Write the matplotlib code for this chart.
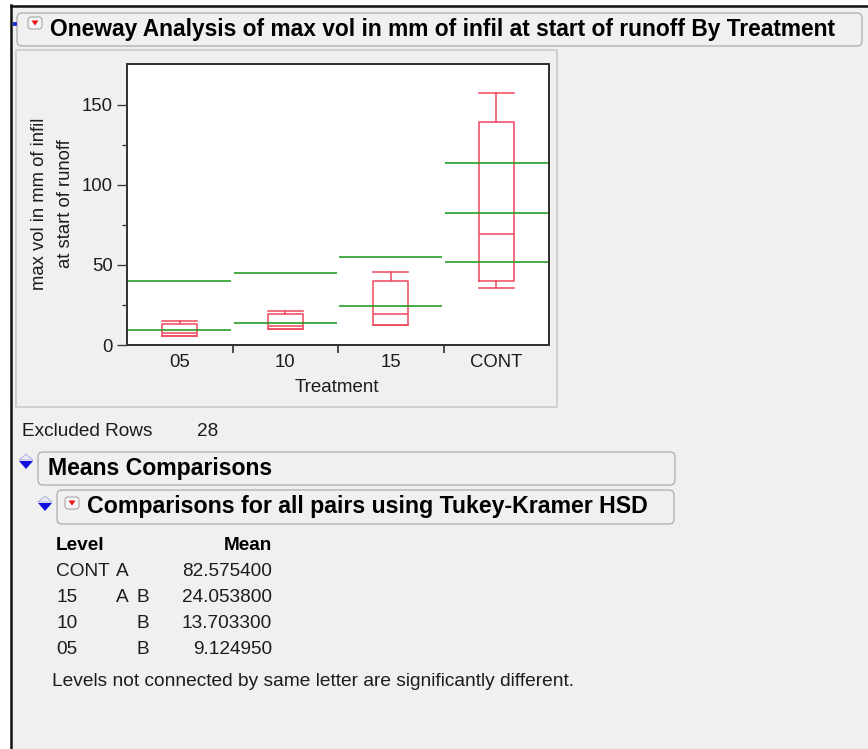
import matplotlib
matplotlib.use("Agg")
import matplotlib.pyplot as plt
from matplotlib.patches import FancyBboxPatch, Rectangle, Polygon

plt.rcParams["font.family"] = ["Liberation Sans", "DejaVu Sans"]

# --- data ---
treatments = ["05", "10", "15", "CONT"]
box_min = [5.9, 9.8, 12.3, 35.9]
box_q1 = [5.9, 9.8, 12.3, 39.8]
box_med = [7.5, 12.0, 19.4, 69.2]
box_q3 = [13.4, 19.1, 39.8, 139.4]
box_max = [15.3, 21.0, 45.9, 157.1]
means = [9.124950, 13.703300, 24.053800, 82.575400]
sd_upper = [40.0, 44.7, 54.8, 113.8]
sd_lower = [None, None, None, 51.6]

table_levels = ["CONT", "15", "10", "05"]
table_letters = [["A", ""], ["A", "B"], ["", "B"], ["", "B"]]
table_means = ["82.575400", "24.053800", "13.703300", "9.124950"]

RED = "#ef4d64"
GREEN = "#1f9a1f"
BG = "#f0f0f0"
TXT = "#1c1c1c"
W, H = 868, 749

fig = plt.figure(figsize=(W / 72, H / 72), dpi=72, facecolor=BG)

# overlay in pixel coordinates for the report furniture
ov = fig.add_axes([0, 0, 1, 1], zorder=0)
ov.set_xlim(0, W); ov.set_ylim(H, 0); ov.axis("off")
ov.add_patch(Rectangle((0, 0), W, 5, color="white", lw=0))
ov.add_patch(Rectangle((0, 0), 11, H, color="white", lw=0))
ov.plot([11, W], [6, 6], color="#111111", lw=2.5)
ov.plot([11, 11], [5, H], color="#111111", lw=2.5)
ov.plot([14], [23], marker="s", ms=3, color="#2233dd")


def outline_box(x0, y0, x1, y1):
    ov.add_patch(FancyBboxPatch((x0, y0), x1 - x0, y1 - y0,
                                boxstyle="round,pad=0,rounding_size=5",
                                fc=BG, ec="#a8a8a8", lw=1.2))


def red_icon(x, y):
    ov.add_patch(FancyBboxPatch((x, y), 14, 12, boxstyle="round,pad=0,rounding_size=3",
                                fc="#f4f4f4", ec="#a0a0a0", lw=1))
    ov.add_patch(Polygon([[x + 3.5, y + 3.5], [x + 10.5, y + 3.5], [x + 7, y + 8.5]],
                         closed=True, color="#ee1111", lw=0))


def blue_icon(x, y):
    ov.add_patch(Polygon([[x, y + 7], [x + 14, y + 7], [x + 7, y + 15]],
                         closed=True, color="#1010dd", lw=0))
    ov.add_patch(Polygon([[x, y + 6], [x + 7, y], [x + 14, y + 6]],
                         closed=True, fc="#e8e8ff", ec="#9090c0", lw=0.6))


# title bar
outline_box(17, 13, 862, 46)
red_icon(28, 17)
ov.text(50, 29.5, "Oneway Analysis of max vol in mm of infil at start of runoff By Treatment",
        fontsize=22.8, fontweight="bold", va="center", ha="left")

# plot frame
ov.add_patch(Rectangle((15.5, 49.5), 541, 357, fc=BG, ec="#c8c8c8", lw=1.5))

# y label (two lines) and x label
ov.text(40, 204, "max vol in mm of infil", rotation=90, fontsize=18.5,
        ha="center", va="center", color=TXT)
ov.text(65, 204, "at start of runoff", rotation=90, fontsize=18.5,
        ha="center", va="center", color=TXT)
ov.text(337, 388, "Treatment", fontsize=18.8, ha="center", va="center", color=TXT)

# excluded rows
ov.text(22, 432, "Excluded Rows", fontsize=19, ha="left", va="center", color=TXT)
ov.text(197, 432, "28", fontsize=19, ha="left", va="center", color=TXT)

# means comparisons headers
blue_icon(19, 454)
outline_box(38, 452, 675, 485)
ov.text(48, 469, "Means Comparisons", fontsize=23, fontweight="bold", va="center")
blue_icon(38, 496)
outline_box(57, 490, 674, 524)
red_icon(65, 497)
ov.text(87, 507, "Comparisons for all pairs using Tukey-Kramer HSD",
        fontsize=23.1, fontweight="bold", va="center")

# connecting letters table
ov.text(56, 545, "Level", fontsize=19, fontweight="bold", va="center")
ov.text(272, 545, "Mean", fontsize=19, fontweight="bold", va="center", ha="right")
for i, (lev, lets, mv) in enumerate(zip(table_levels, table_letters, table_means)):
    yy = 571 + 26 * i
    ov.text(56, yy, lev, fontsize=19, va="center", color=TXT)
    ov.text(116, yy, lets[0], fontsize=19, va="center", color=TXT)
    ov.text(136.5, yy, lets[1], fontsize=19, va="center", color=TXT)
    ov.text(272, yy, mv, fontsize=19, va="center", ha="right", color=TXT)
ov.text(52, 681, "Levels not connected by same letter are significantly different.",
        fontsize=19.1, va="center", color=TXT)

# --- the oneway plot ---
ax = fig.add_axes([127 / W, 1 - 345 / H, 422 / W, 281 / H], zorder=1)
ax.set_facecolor("white")
pos = list(range(len(treatments)))
stats = [dict(whislo=a, q1=b, med=c, q3=d, whishi=e, fliers=[])
         for a, b, c, d, e in zip(box_min, box_q1, box_med, box_q3, box_max)]
lp = dict(color=RED, lw=1.6)
ax.bxp(stats, positions=pos, widths=0.335, capwidths=0.335, showfliers=False,
       boxprops=lp, whiskerprops=lp, capprops=lp, medianprops=lp)

g = 0.01
for i in pos:
    ax.hlines(means[i], i - 0.5 + g, i + 0.5 - g, color=GREEN, lw=1.6)
    ax.hlines(sd_upper[i], i - 0.5 + g, i + 0.5 - g, color=GREEN, lw=1.6)
    if sd_lower[i] is not None:
        ax.hlines(sd_lower[i], i - 0.5 + g, i + 0.5 - g, color=GREEN, lw=1.6)

ax.set_xlim(-0.5, len(treatments) - 0.5)
ax.set_ylim(0, 175.5)
ax.set_xticks(pos)
ax.set_xticklabels(treatments)
ax.set_xticks([p + 0.5 for p in pos[:-1]], minor=True)
ax.tick_params(axis="x", which="major", length=0, pad=9, labelsize=18.5, labelcolor=TXT)
ax.tick_params(axis="x", which="minor", length=8, width=1.5, direction="out", color=TXT)
ax.set_yticks([0, 50, 100, 150])
ax.set_yticks([25, 75, 125], minor=True)
ax.tick_params(axis="y", which="major", length=10, width=1.3, pad=4, labelsize=18.5,
               labelcolor=TXT, color="#333333")
ax.tick_params(axis="y", which="minor", length=5, width=1.3, color="#333333")
for s in ax.spines.values():
    s.set_color("#333333")
    s.set_linewidth(2)

fig.savefig("out.png", dpi=72, facecolor=BG)
